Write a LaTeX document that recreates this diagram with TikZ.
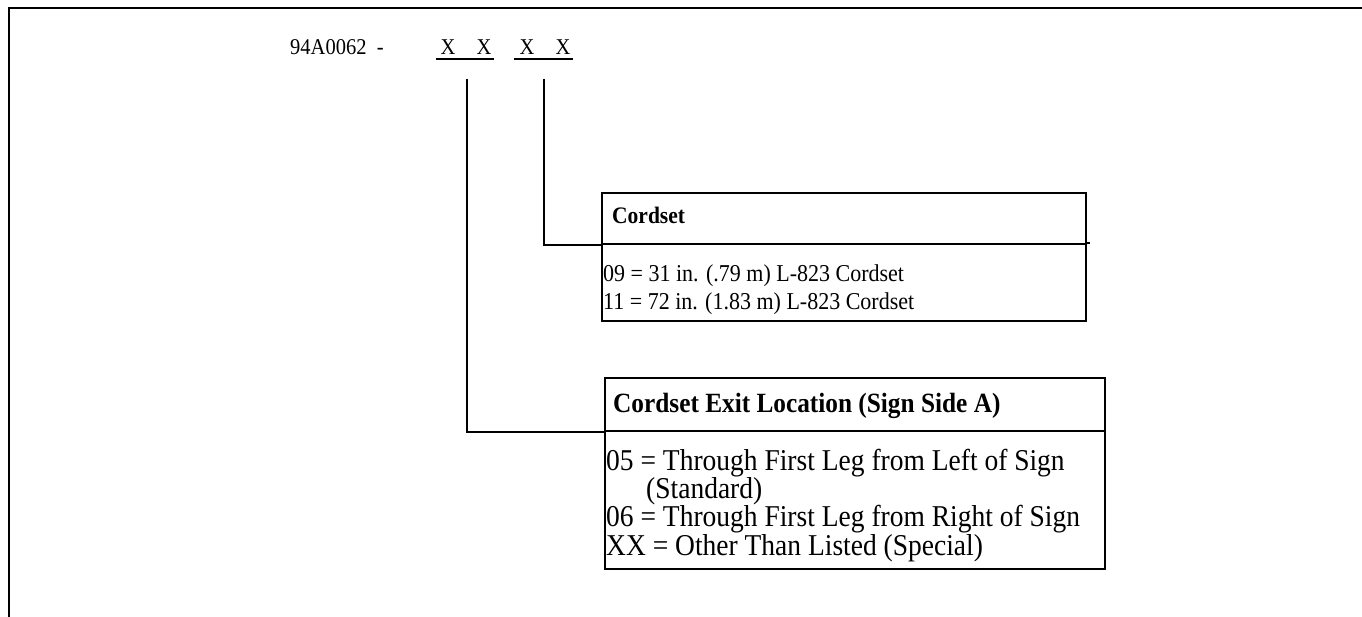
\documentclass[tikz,border=0pt]{standalone}
\usepackage{fontspec}
\usepackage{graphicx}
\setmainfont{Liberation Serif}
\newcommand{\vstr}[1]{\scalebox{1}[1.1]{#1}}
\begin{document}
\begin{tikzpicture}[x=1pt,y=-1pt,
  frame/.style={line width=2pt},
  boxline/.style={draw, line width=2pt, anchor=north west, inner sep=0pt},
  txt/.style={anchor=base west, inner sep=0pt, font=\fontsize{20.5}{25}\selectfont},
  ctxt/.style={txt, font=\fontsize{22}{25}\selectfont},
  chead/.style={txt, font=\fontsize{21.5}{25}\selectfont\bfseries},
  etxt/.style={txt, font=\fontsize{27.5}{30}\selectfont},
  ehead/.style={txt, font=\fontsize{25.3}{30}\selectfont\bfseries},
  conn/.style={line width=2pt}]
\useasboundingbox (0,0) rectangle (1362,617);
% outer frame
\coordinate (fbl) at (9,617);
\coordinate (ftl) at (9,8);
\coordinate (ftr) at (1362,8);
\draw[frame] (fbl) -- (ftl) -- (ftr);
% title
\node[txt] (title) at (290,55) {\vstr{94A0062\ \ -}};
\node[txt, anchor=base] (x1) at (448,55) {\vstr{X}};
\node[txt, anchor=base] (x2) at (484,55) {\vstr{X}};
\node[txt, anchor=base] (x3) at (527,55) {\vstr{X}};
\node[txt, anchor=base] (x4) at (563,55) {\vstr{X}};
\coordinate (u1a) at (436,59); \coordinate (u1b) at (494,59);
\coordinate (u2a) at (514,59); \coordinate (u2b) at (573,59);
\draw[line width=1.4pt] (u1a) -- (u1b);
\draw[line width=1.4pt] (u2a) -- (u2b);
\coordinate (c1) at (467,79);
\coordinate (c2) at (544,79);
% Cordset box
\node[boxline, minimum width=484pt, minimum height=51pt] (h1) at (601,192) {};
\node[boxline, minimum width=484pt, minimum height=77pt] (b1) at (601,243) {};
\node[chead] (h1t) at (612,224) {\vstr{Cordset}};
\node[ctxt] (b1a) at (603,282) {\vstr{09 = 31 in. (.79 m) L-823 Cordset}};
\node[ctxt] (b1b) at (603,310) {\vstr{11 = 72 in. (1.83 m) L-823 Cordset}};
\draw[conn] (b1.north east) -- ++(3,0);
% Exit box
\node[boxline, minimum width=500pt, minimum height=53pt] (h2) at (604,377) {};
\node[boxline, minimum width=500pt, minimum height=138pt] (b2) at (604,430) {};
\node[ehead] (h2t) at (613,412) {\vstr{Cordset Exit Location (Sign Side A)}};
\node[etxt] (b2a) at (606,470) {\vstr{05 = Through First Leg from Left of Sign}};
\node[etxt] (b2b) at (646,498) {\vstr{(Standard)}};
\node[etxt] (b2c) at (606,526) {\vstr{06 = Through First Leg from Right of Sign}};
\node[etxt] (b2d) at (606,555) {\vstr{XX = Other Than Listed (Special)}};
% connectors
\draw[conn] (c2) |- (h1.south west);
\draw[conn] (c1) |- (h2.south west);
\end{tikzpicture}
\end{document}
